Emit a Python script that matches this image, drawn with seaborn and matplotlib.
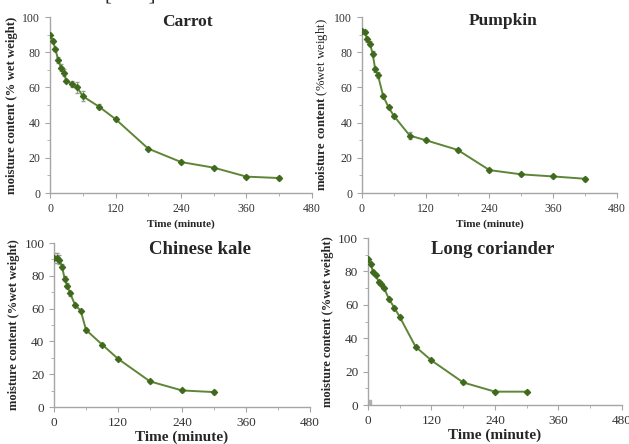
import numpy as np
import pandas as pd
import matplotlib
matplotlib.use("Agg")
import matplotlib.pyplot as plt
import seaborn as sns

# ==============================
# DATA
# ==============================
time_long = [0, 5, 10, 15, 20, 25, 30, 40, 50, 60, 90, 120, 180, 240, 300, 360, 420]
time_short = [0, 5, 10, 15, 20, 25, 30, 40, 50, 60, 90, 120, 180, 240, 300]

carrot = [90, 86.5, 81.6, 75.6, 71.2, 68.4, 63.8, 62, 60, 55, 49, 42, 25.2, 17.6, 14.4, 9.3, 8.5]
carrot_err = [1, 1, 1, 1.5, 2, 2, 1, 1.5, 3, 3, 1.5, 1, 1, 1, 1, 1, 1]

pumpkin = [91.9, 91.5, 87.4, 84.9, 79.2, 70.2, 67, 55, 48.7, 43.8, 32.6, 30, 24.5, 13, 10.6, 9.4, 8.1]
pumpkin_err = [1, 1, 1.5, 1.5, 1.5, 1.5, 1.5, 1, 1, 1, 2, 1, 1, 1, 1, 1, 1]

kale = [90.9, 90.7, 89.9, 85.6, 78.1, 74, 69.4, 61.9, 58.8, 47, 38.1, 29.4, 15.6, 10.1, 9.1]
kale_err = [3, 3, 2.5, 1.5, 1.5, 1.5, 1.5, 1, 1, 1, 1, 1, 1, 1, 1]

coriander = [87.3, 84.3, 79.7, 78.1, 73.7, 72.3, 70.3, 63.3, 58.2, 52.8, 34.9, 26.7, 13.5, 8, 8]
coriander_err = [1, 1, 1, 1, 1, 1, 1, 1, 1, 1, 1, 1, 1, 1, 1]
coriander_stray = [(0, 1)]  # small grey square at origin

panels = [
    ("Carrot", time_long, carrot, carrot_err),
    ("Pumpkin", time_long, pumpkin, pumpkin_err),
    ("Chinese kale", time_short, kale, kale_err),
    ("Long coriander", time_short, coriander, coriander_err),
]

# ==============================
# STYLE
# ==============================
sns.set_style("white")
plt.rcParams["font.family"] = ["Liberation Serif", "DejaVu Serif"]
plt.rcParams["mathtext.fontset"] = "custom"
plt.rcParams["mathtext.bf"] = "Liberation Serif:bold"
plt.rcParams["mathtext.rm"] = "Liberation Serif"

line_col = "#5f8536"
mark_col = "#3f6a1c"
spine_col = "#a6a6a6"

fig = plt.figure(figsize=(6.29, 4.44), dpi=100)

# axes boxes in figure fractions, and text settings per panel
boxes = [
    [0.0795, 0.5653, 0.4165, 0.3964],
    [0.5755, 0.5653, 0.4054, 0.3964],
    [0.0859, 0.0833, 0.4070, 0.3694],
    [0.5850, 0.0878, 0.4038, 0.3760],
]
title_pos = [(0.523, 0.97), (0.553, 0.98), (0.57, 0.963), (0.49, 0.934)]
title_size = [12.5, 12.5, 13.5, 13.3]
tick_size = [8.5, 8.5, 9.5, 9.5]
xlabel_size = [8, 8, 11, 11]
ylabel_size = [9.2, 9.2, 9, 9]
ylabels = [
    "moisture content (% wet weight)",
    r"$\mathbf{moisture\ content}$ (%wet weight)",
    "moisture content (%wet weight)",
    "moisture content (%wet weight)",
]

for i, (name, t, v, e) in enumerate(panels):
    ax = fig.add_axes(boxes[i])
    df = pd.DataFrame({"time": t, "moisture": v})
    ax.errorbar(t, v, yerr=e, fmt="none", ecolor="#9a9a9a", elinewidth=0.8, capsize=1.5, zorder=1)
    sns.lineplot(data=df, x="time", y="moisture", ax=ax, color=line_col, lw=1.4,
                 marker="D", markersize=3.3, markerfacecolor=mark_col, markeredgecolor=mark_col,
                 zorder=3)
    if name == "Long coriander":
        sx, sy = zip(*coriander_stray)
        ax.scatter(sx, sy, marker="s", s=18, color="#b0b0b0", zorder=2)

    ax.set_xlim(0, 480)
    ax.set_ylim(0, 100)
    ax.set_xticks(range(0, 481, 120))
    ax.set_xticks(range(0, 481, 60), minor=True)
    ax.set_yticks(range(0, 101, 20))
    ax.set_yticks(range(0, 101, 10), minor=True)
    for s in ["top", "right"]:
        ax.spines[s].set_visible(False)
    for s in ["left", "bottom"]:
        ax.spines[s].set_color(spine_col)
        ax.spines[s].set_linewidth(1.0)
    ax.tick_params(which="both", direction="out", color=spine_col, labelsize=tick_size[i],
                   labelcolor="#333333", left=True, bottom=True)
    ax.tick_params(which="major", length=3.5)
    ax.tick_params(which="minor", length=2.5)
    ax.set_xlabel("Time (minute)", fontsize=xlabel_size[i], fontweight="bold",
                  labelpad=3 if i < 2 else 1)
    if i == 1:
        ax.set_ylabel(ylabels[i], fontsize=ylabel_size[i], labelpad=3)
    else:
        ax.set_ylabel(ylabels[i], fontsize=ylabel_size[i], fontweight="bold", labelpad=3)
    ax.text(title_pos[i][0], title_pos[i][1], name, transform=ax.transAxes, ha="center",
            va="center", fontsize=title_size[i], fontweight="bold")
    ax.set_facecolor("none")

# cut-off citation bracket at the very top
fig.text(0.207, 1.012, "[       ]", ha="center", va="center", fontsize=15)

fig.savefig("out.png", dpi=100)
